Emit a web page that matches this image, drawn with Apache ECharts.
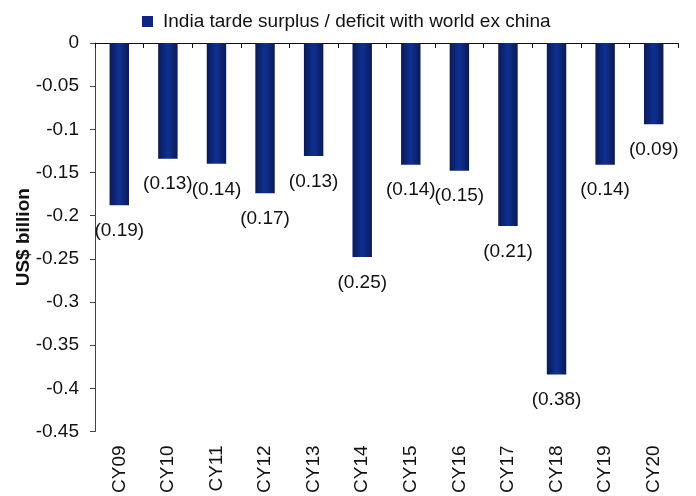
<!DOCTYPE html>
<html>
<head>
<meta charset="utf-8">
<script src="https://cdn.jsdelivr.net/npm/echarts@6/dist/echarts.min.js"></script>
<style>html,body{margin:0;padding:0;background:#fff;}#c{width:696px;height:496px;}</style>
</head>
<body>
<div id="c"></div>
<script>
const categories = ['CY09','CY10','CY11','CY12','CY13','CY14','CY15','CY16','CY17','CY18','CY19','CY20'];
const values = [-0.188, -0.134, -0.140, -0.174, -0.131, -0.248, -0.141, -0.148, -0.212, -0.384, -0.141, -0.094];
const seriesName = 'India tarde surplus / deficit with world ex china';
const yAxisName = 'US$ billion';

const FONT = 'Liberation Sans, Arial, sans-serif';
const FS = 19;
const chart = echarts.init(document.getElementById('c'), null, {renderer: 'canvas'});
const barGrad = new echarts.graphic.LinearGradient(0, 0, 1, 0, [
  {offset: 0, color: '#0a1a55'},
  {offset: 0.5, color: '#0f3093'},
  {offset: 1, color: '#0a1a55'}
]);
chart.setOption({
  animation: false,
  textStyle: {fontFamily: FONT},
  legend: {
    top: 7, left: 137,
    itemWidth: 11, itemHeight: 11, itemGap: 10,
    icon: 'rect',
    textStyle: {fontSize: FS, color: '#111', fontFamily: FONT, padding: [0, 0, 0, 5]},
    data: [{name: seriesName, itemStyle: {color: '#0d2680'}}]
  },
  grid: {left: 95, right: 18, top: 43, bottom: 62, containLabel: false},
  xAxis: {
    type: 'category',
    data: categories,
    position: 'bottom',
    axisLine: {onZero: true, lineStyle: {color: '#111', width: 1}},
    axisTick: {show: true, length: 5, lineStyle: {color: '#111'}},
    axisLabel: {rotate: 90, fontSize: FS, color: '#111', margin: 14, fontFamily: FONT},
    splitLine: {show: false}
  },
  yAxis: {
    type: 'value',
    min: -0.45, max: 0, interval: 0.05,
    name: yAxisName,
    nameLocation: 'middle',
    nameGap: 62,
    nameMoveOverlap: false,
    nameTextStyle: {fontSize: FS, fontWeight: 'bold', color: '#111', fontFamily: FONT},
    axisLine: {show: true, lineStyle: {color: '#444'}},
    axisTick: {show: true, length: 5, lineStyle: {color: '#444'}},
    axisLabel: {fontSize: FS, color: '#111', margin: 16, fontFamily: FONT},
    splitLine: {show: false}
  },
  series: [{
    name: seriesName,
    type: 'bar',
    data: values,
    barWidth: '40%',
    itemStyle: {color: barGrad},
    label: {
      show: true,
      position: 'bottom',
      distance: 16,
      fontSize: FS,
      color: '#111',
      fontFamily: FONT,
      formatter: p => '(' + Math.abs(p.value).toFixed(2) + ')'
    }
  }]
});
</script>
</body>
</html>
